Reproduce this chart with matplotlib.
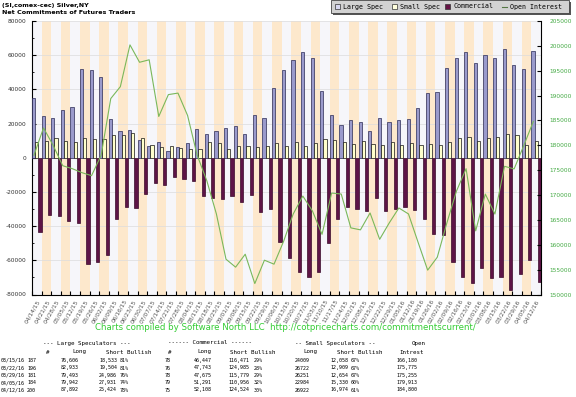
import matplotlib
matplotlib.use('Agg')
import matplotlib.pyplot as plt
import numpy as np
from matplotlib.patches import Rectangle
from matplotlib.lines import Line2D
from matplotlib.ticker import MultipleLocator

plt.rcParams['axes.unicode_minus'] = False

weeks = [
    '04/14/15', '04/21/15', '04/28/15', '05/05/15', '05/12/15', '05/19/15',
    '05/26/15', '06/02/15', '06/09/15', '06/16/15', '06/23/15', '06/30/15',
    '07/07/15', '07/14/15', '07/21/15', '07/28/15', '08/04/15', '08/11/15',
    '08/18/15', '08/25/15', '09/01/15', '09/08/15', '09/15/15', '09/22/15',
    '09/29/15', '10/06/15', '10/13/15', '10/20/15', '10/27/15', '11/03/15',
    '11/10/15', '11/17/15', '11/24/15', '12/01/15', '12/08/15', '12/15/15',
    '12/22/15', '12/29/15', '01/05/16', '01/12/16', '01/19/16', '01/26/16',
    '02/02/16', '02/09/16', '02/16/16', '02/23/16', '03/01/16', '03/08/16',
    '03/15/16', '03/22/16', '03/29/16', '04/05/16', '04/12/16',
]

# net positions (contracts)
large_spec = [
    34700, 24400, 23000, 27900, 29400, 51700, 51100, 47000, 22600, 15800,
    16000, 10300, 7000, 9400, 4100, 6200, 8400, 16800, 13800, 15600,
    17400, 18500, 13800, 25000, 23000, 40600, 51500, 57100, 62000, 58300,
    38800, 25200, 19100, 22000, 21100, 15600, 23400, 20700, 21800, 22600,
    28900, 37600, 38600, 52500, 58500, 61800, 55400, 60100, 58073, 63429,
    54507, 52011, 62468,
]
small_spec = [
    9400, 9900, 11300, 9700, 9200, 11300, 10700, 11100, 13600, 13600,
    14200, 11300, 7300, 6000, 6800, 5900, 5300, 5300, 9000, 8400,
    5100, 6800, 6800, 6400, 6800, 8600, 6800, 9400, 6800, 8800,
    11100, 10100, 9200, 8000, 9600, 8000, 7700, 9500, 7600, 8400,
    7200, 7800, 7200, 9000, 11700, 12100, 9700, 11500, 11951, 13813,
    13597, 7654, 9948,
]
commercial = [
    -43500, -33500, -33900, -36900, -38000, -62000, -61200, -57100, -35700, -28700,
    -29300, -21100, -14600, -15700, -11200, -12300, -13800, -22600, -23800, -24200,
    -22600, -25700, -21500, -31600, -30200, -49500, -58700, -67100, -69600, -67100,
    -50100, -35700, -29000, -30200, -31400, -23800, -31000, -29800, -28700, -30600,
    -35700, -44500, -44900, -61000, -69600, -73100, -64700, -70200, -70024, -77242,
    -68104, -59665, -72416,
]
open_interest = [
    178000, 183500, 180000, 175900, 175300, 174500, 173900, 178000, 189400, 191800,
    200200, 196700, 197200, 185800, 190200, 190500, 186000, 178000, 172900, 166200,
    157100, 155500, 158100, 152200, 156900, 156100, 160700, 166200, 169800, 166800,
    162100, 170400, 170200, 163400, 163000, 166400, 161100, 164400, 167400, 166200,
    160500, 154900, 157500, 164400, 170800, 175300, 162800, 170200, 166180, 175775,
    175255, 179913, 184800,
]

# table under the chart
tbl_dates = ['03/15/16', '03/22/16', '03/29/16', '04/05/16', '04/12/16']
ls_count = ['187', '196', '181', '184', '200']
ls_long = ['76,606', '82,933', '79,493', '79,942', '87,892']
ls_short = ['18,533', '19,504', '24,986', '27,931', '25,424']
ls_bull = ['81%', '81%', '76%', '74%', '78%']
cm_count = ['78', '76', '78', '79', '75']
cm_long = ['46,447', '47,743', '47,675', '51,291', '52,108']
cm_short = ['116,471', '124,985', '115,779', '110,956', '124,524']
cm_bull = ['29%', '28%', '29%', '32%', '30%']
ss_long = ['24009', '26722', '26251', '22984', '26922']
ss_short = ['12,058', '12,909', '12,654', '15,330', '16,974']
ss_bull = ['67%', '67%', '67%', '60%', '61%']
tbl_oi = ['166,180', '175,775', '175,255', '179,913', '184,800']

W, H = 576, 397
MONO = 'DejaVu Sans Mono'


def fx(px):
  return px / W


def fy(py):
  return 1 - py / H


def draw_legend(fig):
  fig.add_artist(Rectangle((fx(333), fy(15)), fx(238), 13 / H,
                           transform=fig.transFigure, facecolor='#555555',
                           edgecolor='none'))
  fig.add_artist(Rectangle((fx(331), fy(13)), fx(238), 13 / H,
                           transform=fig.transFigure, facecolor='#d2d2d2',
                           edgecolor='#444444', lw=0.6))
  items = [(335, 343, '#d8d8f0', 'Large Spec'),
           (392, 400, '#ffffdd', 'Small Spec'),
           (445, 453, '#661144', 'Commercial')]
  for mx, tx, col, label in items:
    fig.add_artist(Rectangle((fx(mx), fy(9)), fx(5), 5 / H,
                             transform=fig.transFigure, facecolor=col,
                             edgecolor='#333333', lw=0.5))
    fig.text(fx(tx), fy(6.5), label, fontsize=4.8, family=MONO, va='center')
  fig.add_artist(Line2D([fx(502), fx(507)], [fy(6.5), fy(6.5)],
                        transform=fig.transFigure, color='#557744', lw=0.8))
  fig.text(fx(510), fy(6.5), 'Open Interest', fontsize=4.8, family=MONO,
           va='center')


def draw_table(fig):
  fs = 4.2
  fig.text(fx(43), fy(343), '--- Large Speculators ---', fontsize=fs, family=MONO, va='center')
  fig.text(fx(168), fy(343), '------ Commercial ------', fontsize=fs, family=MONO, va='center')
  fig.text(fx(295), fy(343), '-- Small Speculators --', fontsize=fs, family=MONO, va='center')
  fig.text(fx(426), fy(343), 'Open', fontsize=fs, family=MONO, va='center', ha='right')
  heads = [(46, '#'), (72, 'Long'), (106, 'Short Bullish'), (168, '#'),
           (197, 'Long'), (230, 'Short Bullish'), (303, 'Long'),
           (337, 'Short Bullish'), (399, 'Intrest')]
  for x, t in heads:
    fig.text(fx(x), fy(352), t, fontsize=fs, family=MONO, va='center')

  ds = 3.6
  cols = [ls_count, ls_long, ls_short, ls_bull, cm_count, cm_long, cm_short,
          cm_bull, ss_long, ss_short, ss_bull, tbl_oi]
  right_edges = [36, 79, 117, 129, 171, 212, 249, 263, 310, 348, 360, 417]
  row_y = [360.3, 368, 375.3, 382.7, 390]
  for r, y in enumerate(row_y):
    fig.text(fx(1), fy(y), tbl_dates[r], fontsize=ds, family=MONO, va='center')
    for col, xr in zip(cols, right_edges):
      fig.text(fx(xr), fy(y), col[r], fontsize=ds, family=MONO, va='center',
               ha='right')


def main():
  fig = plt.figure(figsize=(5.76, 3.97), dpi=100)
  ax = fig.add_axes([fx(32), fy(294.5), fx(541) - fx(32), fy(21) - fy(294.5)])

  n = len(weeks)
  idx = np.arange(n)
  for i in idx:
    ax.axvspan(i, i + 1, color='#f6f6fa' if i % 2 == 0 else '#fde8cc',
               lw=0, zorder=0)

  ax.bar(idx + 1 / 6, large_spec, width=1 / 3, color='#9a9acc',
         edgecolor='#2a2a55', lw=0.5, zorder=3)
  ax.bar(idx + 0.5, small_spec, width=1 / 3, color='#ffffcc',
         edgecolor='#111111', lw=0.5, zorder=3)
  ax.bar(idx + 5 / 6, commercial, width=1 / 3, color='#5e1446',
         edgecolor='#3a0a2a', lw=0.5, zorder=3)

  ax.set_xlim(0, n)
  ax.set_ylim(-80000, 80000)
  ax.yaxis.set_major_locator(MultipleLocator(20000))
  ax.yaxis.set_minor_locator(MultipleLocator(10000))
  ax.set_axisbelow(True)
  ax.yaxis.grid(True, color='#dcdcdc', lw=0.5)
  ax.tick_params(axis='y', which='both', direction='in', labelsize=4.2,
                 labelcolor='#333333', pad=4)
  ax.tick_params(axis='y', which='major', length=3)
  ax.tick_params(axis='y', which='minor', length=1.5)

  ax.set_xticks(np.arange(n + 1))
  ax.set_xticklabels([])
  ax.tick_params(axis='x', which='major', direction='in', length=3)
  ax.set_xticks(idx + 0.5, minor=True)
  ax.set_xticklabels(weeks, minor=True, rotation=60, ha='right',
                     rotation_mode='anchor', fontsize=4.2, color='#555555')
  ax.tick_params(axis='x', which='minor', length=0, pad=3)

  for s in ['top', 'right']:
    ax.spines[s].set_visible(False)
  ax.spines['left'].set_linewidth(0.8)
  ax.spines['bottom'].set_linewidth(0.8)

  ax2 = ax.twinx()
  ax2.plot(idx + 0.2, open_interest, color='#7ab85a', lw=0.8, zorder=5)
  ax2.set_ylim(150000, 205000)
  ax2.yaxis.set_major_locator(MultipleLocator(5000))
  ax2.tick_params(axis='y', direction='in', length=3, labelsize=4.2,
                  labelcolor='#44aa44', pad=6)
  ax2.spines['top'].set_visible(False)
  ax2.spines['left'].set_visible(False)
  ax2.spines['bottom'].set_visible(False)
  ax2.spines['right'].set_linewidth(0.8)

  fig.text(fx(2), fy(5.5), '(SI,comex-cec) Silver,NY', fontsize=4.6,
           weight='bold', va='center')
  fig.text(fx(2), fy(12.5), 'Net Commitments of Futures Traders',
           fontsize=4.6, weight='bold', va='center')
  draw_legend(fig)

  fig.text(fx(95), fy(328),
           'Charts compiled by Software North LLC  '
           'http://cotpricecharts.com/commitmentscurrent/',
           color='#33cc33', fontsize=6.2, va='center')
  draw_table(fig)

  fig.savefig('out.png', dpi=100)


if __name__ == '__main__':
  main()
